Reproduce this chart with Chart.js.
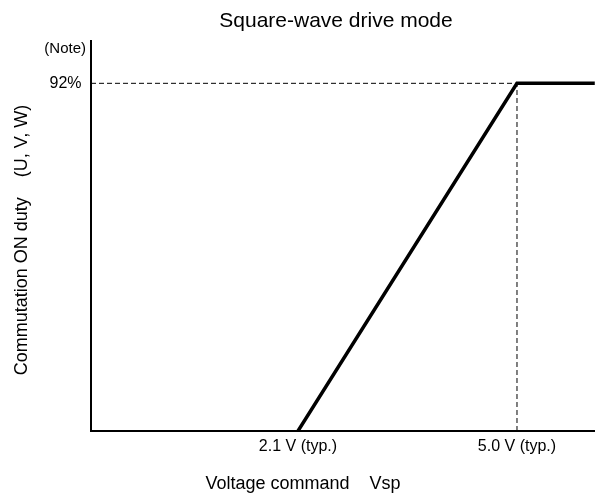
<!DOCTYPE html>
<html>
<head>
<meta charset="utf-8">
<script src="https://cdn.jsdelivr.net/npm/chart.js@4/dist/chart.umd.min.js"></script>
<style>
html,body{margin:0;padding:0;background:#fff;}
#wrap{width:595px;height:495px;}
</style>
</head>
<body>
<div id="wrap"><canvas id="c" width="595" height="495"></canvas></div>
<script>
// Data
const voltage = [2.1, 5.0, 6.03];          // Vsp (V)
const duty = [0, 92, 92];                  // commutation ON duty (%)
const xTicks = [2.1, 5.0];
const xTickLabels = ['2.1 V (typ.)', '5.0 V (typ.)'];
const yTicks = [92, 101];
const yTickLabels = ['92% ', '(Note)'];
const xMin = -0.641, xMax = 6.033;
const yMin = 0, yMax = 103.2;
const guideH = {x: [xMin, 5.0], y: [92, 92]};
const guideV = {x: [5.0, 5.0], y: [0, 92]};

const chartTitle = 'Square-wave drive mode';
const xTitle = 'Voltage command    Vsp';
const yTitle = 'Commutation ON duty    (U, V, W)';

const toPts = (xs, ys) => xs.map((x, i) => ({x: x, y: ys[i]}));
const FONT = "'Liberation Sans', Arial, sans-serif";

const textPlugin = {
  id: 'texts',
  afterDraw(chart) {
    const ctx = chart.ctx;
    ctx.save();
    ctx.fillStyle = '#000';
    ctx.textAlign = 'center';
    ctx.textBaseline = 'alphabetic';
    ctx.font = '21px ' + FONT;
    ctx.fillText(chartTitle, 336, 27);
    ctx.font = '18px ' + FONT;
    ctx.fillText(xTitle, 303, 489);
    ctx.translate(27, 240);
    ctx.rotate(-Math.PI / 2);
    ctx.fillText(yTitle, 0, 0);
    ctx.restore();
  }
};

new Chart(document.getElementById('c'), {
  type: 'scatter',
  data: {
    datasets: [
      {data: toPts(guideH.x, guideH.y), showLine: true, borderColor: '#000', borderWidth: 1, borderDash: [5, 3], pointRadius: 0, fill: false},
      {data: toPts(guideV.x, guideV.y), showLine: true, borderColor: '#000', borderWidth: 1, borderDash: [5, 3], pointRadius: 0, fill: false},
      {data: toPts(voltage, duty), showLine: true, borderColor: '#000', borderWidth: 3.5, pointRadius: 0, fill: false, borderCapStyle: 'butt'}
    ]
  },
  plugins: [textPlugin],
  options: {
    responsive: false,
    animation: false,
    layout: {padding: {left: 0, right: 0, top: 41, bottom: 0}},
    plugins: {
      legend: {display: false},
      tooltip: {enabled: false},
      title: {display: false}
    },
    scales: {
      x: {
        type: 'linear',
        min: xMin, max: xMax,
        afterFit(s) { s.height = 64; },
        afterBuildTicks(s) { s.ticks = xTicks.map(v => ({value: v})); },
        grid: {display: false, drawTicks: false},
        border: {display: true, color: '#000', width: 2},
        ticks: {
          color: '#000',
          font: {family: FONT, size: 16},
          padding: 6,
          maxRotation: 0,
          autoSkip: false,
          callback: (v) => { const i = xTicks.indexOf(v); return i >= 0 ? xTickLabels[i] : ''; }
        }
      },
      y: {
        type: 'linear',
        min: yMin, max: yMax,
        afterFit(s) { s.width = 91; },
        afterBuildTicks(s) { s.ticks = yTicks.map(v => ({value: v})); },
        grid: {display: false, drawTicks: false},
        border: {display: true, color: '#000', width: 2},
        ticks: {
          color: '#000',
          font: (ctx) => ({family: FONT, size: (ctx.tick && ctx.tick.value === 101) ? 15 : 16}),
          padding: 5,
          autoSkip: false,
          callback: (v) => { const i = yTicks.indexOf(v); return i >= 0 ? yTickLabels[i] : ''; }
        }
      }
    }
  }
});
</script>
</body>
</html>
